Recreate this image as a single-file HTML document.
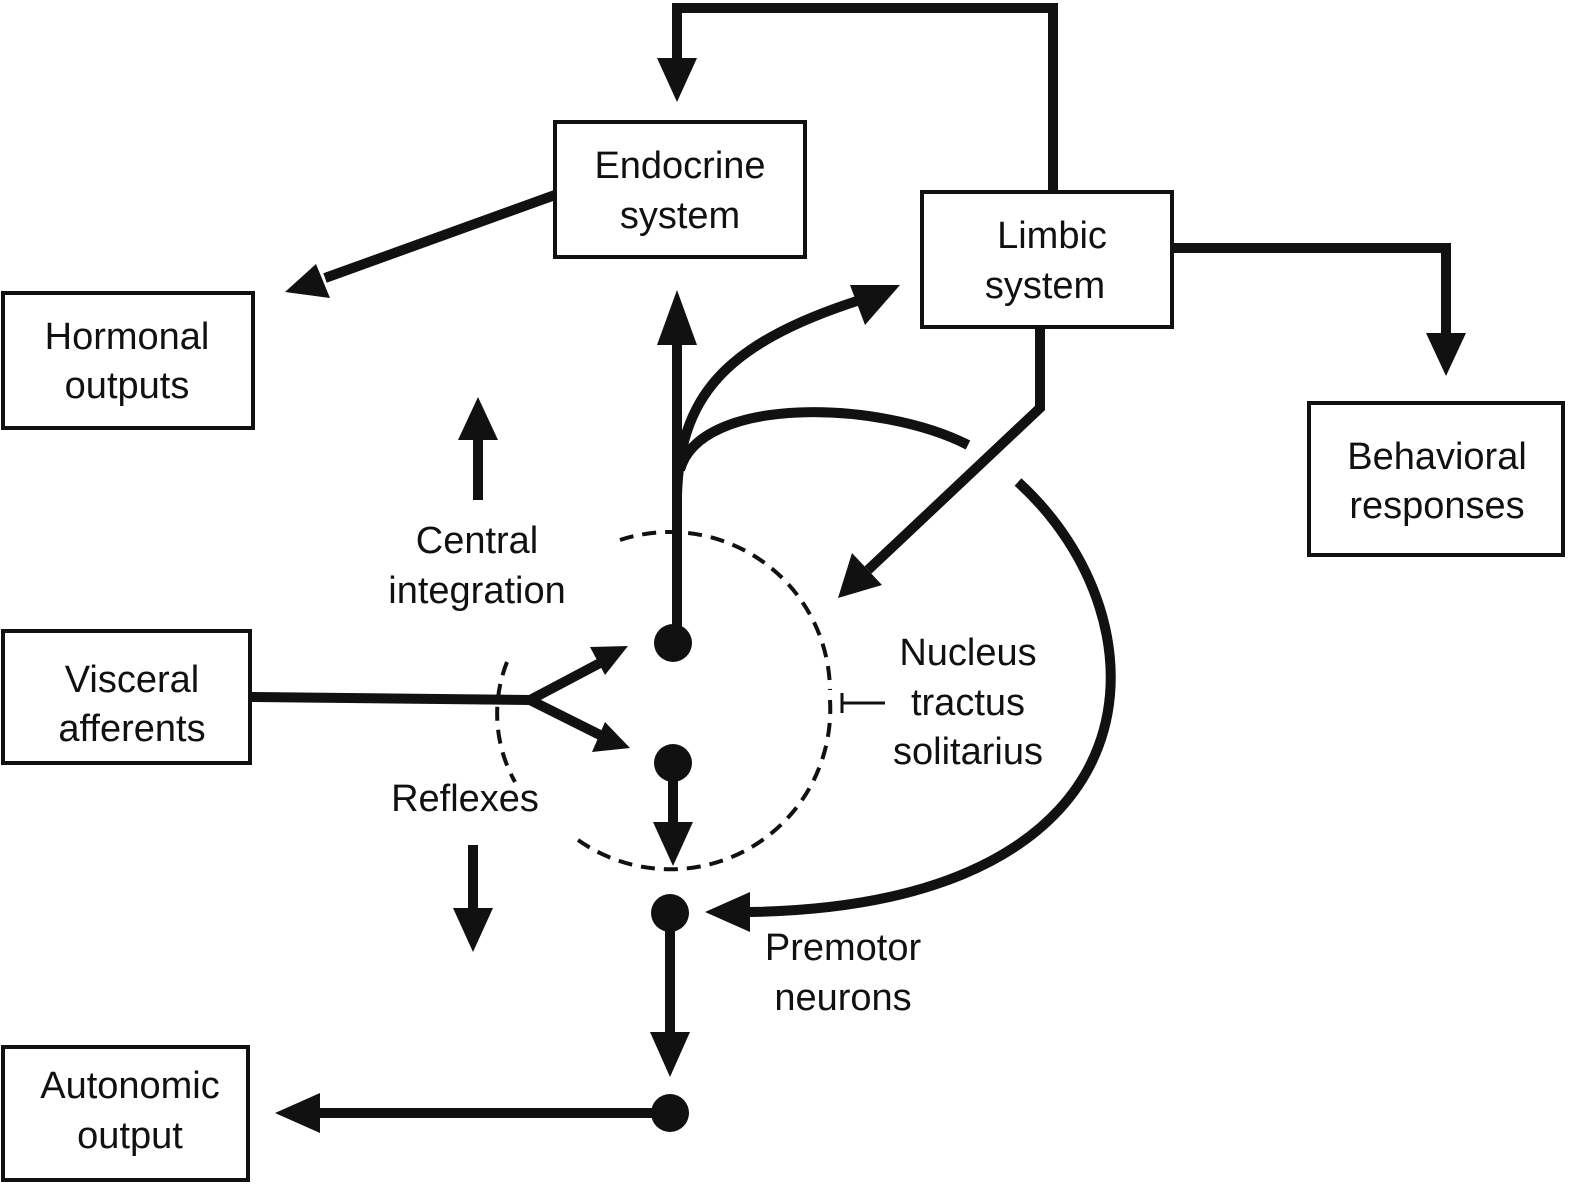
<!DOCTYPE html>
<html><head><meta charset="utf-8"><style>
html,body{margin:0;padding:0;background:#fff}
svg text{font-family:"Liberation Sans",sans-serif;font-size:38px;fill:#111;text-anchor:middle}
</style></head><body>
<svg width="1574" height="1189" viewBox="0 0 1574 1189" xmlns="http://www.w3.org/2000/svg">
<g fill="none" stroke="#111" stroke-width="4">
<rect x="555" y="122" width="250" height="135"/>
<rect x="922" y="192" width="250" height="135"/>
<rect x="3" y="293" width="250" height="135"/>
<rect x="1309" y="403" width="254" height="152"/>
<rect x="3" y="631" width="247" height="132"/>
<rect x="3" y="1047" width="245" height="133"/>
</g>
<g fill="none" stroke="#111" stroke-width="10" stroke-linejoin="miter">
<polyline points="1053,192 1053,8 677,8 677,60"/>
<line x1="555" y1="195" x2="325" y2="278"/>
<polyline points="1172,248 1446,248 1446,335"/>
<polyline points="1040,327 1040,408 868,570"/>
<line x1="677" y1="643" x2="677" y2="335"/>
<path d="M677,495 C680,400 720,345 860,300"/>
<path d="M680,470 C700,395 880,400 968,445"/>
<path d="M1018,482 C1170,620 1170,905 750,912"/>
<line x1="250" y1="697" x2="530" y2="700"/>
<line x1="530" y1="700" x2="600" y2="663"/>
<line x1="530" y1="700" x2="600" y2="735"/>
<line x1="673" y1="763" x2="673" y2="825"/>
<line x1="670" y1="913" x2="670" y2="1035"/>
<line x1="670" y1="1113" x2="318" y2="1113"/>
<line x1="478" y1="500" x2="478" y2="435"/>
<line x1="473" y1="845" x2="473" y2="912"/>
</g>
<g fill="#111">
<polygon points="677,102 657,58 697,58"/>
<polygon points="285,292 316,264 330,298"/>
<polygon points="1446,376 1426,333 1466,333"/>
<polygon points="838,598 852,553 882,585"/>
<polygon points="677,290 657,345 697,345"/>
<polygon points="900,285 850,285 865,325"/>
<polygon points="705,912 750,892 750,932"/>
<polygon points="628,646 590,647 605,675"/>
<polygon points="630,748 605,722 592,752"/>
<polygon points="673,866 653,822 693,822"/>
<polygon points="670,1077 650,1032 690,1032"/>
<polygon points="275,1113 320,1093 320,1133"/>
<polygon points="478,397 458,440 498,440"/>
<polygon points="473,952 453,908 493,908"/>
<circle cx="673" cy="643" r="19"/>
<circle cx="673" cy="763" r="19"/>
<circle cx="670" cy="913" r="19"/>
<circle cx="670" cy="1113" r="19"/>
</g>
<g fill="none" stroke="#111" stroke-width="4" stroke-dasharray="14,9">
<path d="M620,540 A160,160 0 0 1 830,690"/>
<path d="M830,700 A160,160 0 0 1 578,840"/>
<path d="M507,662 A140,140 0 0 0 515,782"/>
</g>
<g stroke="#111" stroke-width="3">
<line x1="842" y1="703" x2="885" y2="703"/>
<line x1="842" y1="693" x2="842" y2="713"/>
</g>
<text x="680" y="178">Endocrine</text><text x="680" y="228">system</text>
<text x="1052" y="248">Limbic</text><text x="1045" y="298">system</text>
<text x="127" y="349">Hormonal</text><text x="127" y="398">outputs</text>
<text x="1437" y="469">Behavioral</text><text x="1437" y="518">responses</text>
<text x="132" y="692">Visceral</text><text x="132" y="741">afferents</text>
<text x="130" y="1098">Autonomic</text><text x="130" y="1148">output</text>
<text x="477" y="553">Central</text><text x="477" y="603">integration</text>
<text x="968" y="665">Nucleus</text><text x="968" y="715">tractus</text><text x="968" y="764">solitarius</text>
<text x="465" y="811">Reflexes</text>
<text x="843" y="960">Premotor</text><text x="843" y="1010">neurons</text>
</svg>
</body></html>
